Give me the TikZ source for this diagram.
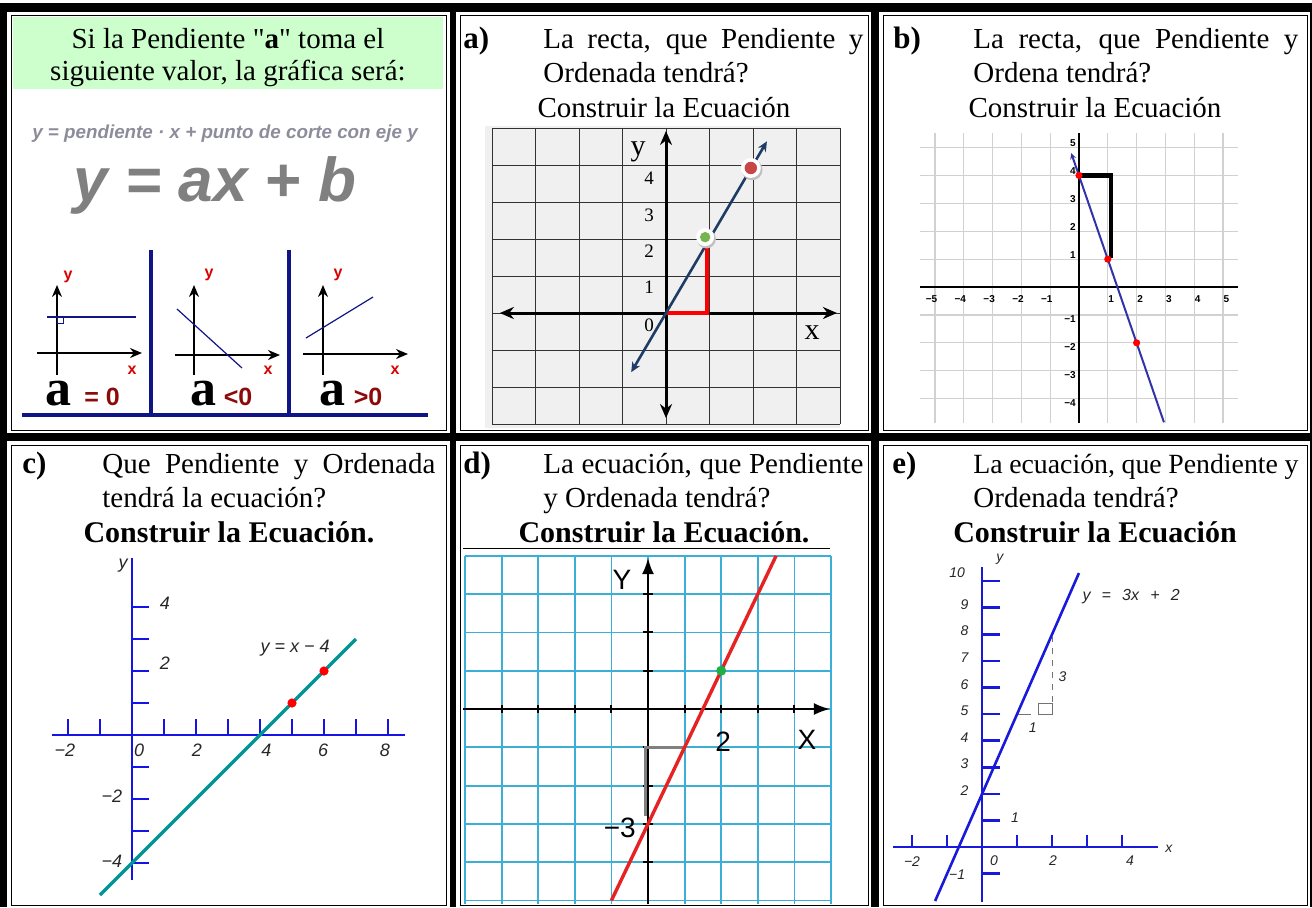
\documentclass[tikz,border=0pt]{standalone}
\usepackage{fontspec}
\setmainfont{Liberation Serif}[Ligatures=TeXOff]
\setsansfont{Liberation Sans}
\usetikzlibrary{arrows.meta}

\definecolor{headgreen}{RGB}{204,255,204}
\definecolor{minavy}{RGB}{15,20,135}
\definecolor{mindred}{RGB}{140,10,10}
\definecolor{formgray}{RGB}{140,140,155}
\definecolor{agridbg}{RGB}{240,240,240}
\definecolor{aline}{RGB}{30,60,100}
\definecolor{adotred}{RGB}{200,70,70}
\definecolor{adotgreen}{RGB}{120,180,80}
\definecolor{bline}{RGB}{50,50,170}
\definecolor{cblue}{RGB}{20,20,230}
\definecolor{cteal}{RGB}{0,150,150}
\definecolor{dcyan}{RGB}{60,175,215}
\definecolor{dred}{RGB}{230,35,35}
\definecolor{dgreen}{RGB}{30,175,70}
\definecolor{eblue}{RGB}{25,25,220}

\begin{document}
\begin{tikzpicture}[x=0.5pt, y=-0.5pt]
\tikzset{
	bar/.style={fill=black},
	cellframe/.style={draw=black, line width=0.5pt},
	qtext/.style={anchor=base west, inner sep=0pt, font=\fontsize{14.5}{17}\selectfont},
	qtitle/.style={anchor=base, inner sep=0pt, font=\fontsize{14.5}{17}\selectfont},
	qbold/.style={anchor=base, inner sep=0pt, font=\fontsize{15}{17}\selectfont\bfseries},
	qletter/.style={anchor=base west, inner sep=0pt, font=\fontsize{15.5}{17}\selectfont\bfseries},
	minaxis/.style={line width=0.8pt, -{Stealth[length=6pt,width=5pt]}},
	minlab/.style={text=red!85!black, font=\sffamily\bfseries\fontsize{8}{9}\selectfont, inner sep=0pt},
	bigA/.style={anchor=base, inner sep=0pt, font=\fontsize{26}{27}\selectfont\bfseries},
	signlab/.style={anchor=base, inner sep=0pt, text=mindred, font=\sffamily\bfseries\fontsize{12.5}{13}\selectfont},
	agrid/.style={draw=black!80, line width=0.5pt},
	anum/.style={inner sep=0pt, font=\fontsize{9.5}{10}\selectfont},
	bgrid/.style={draw=black!18, line width=0.6pt},
	bnum/.style={inner sep=0pt, font=\sffamily\bfseries\fontsize{5}{5}\selectfont},
	tech/.style={inner sep=0pt, text=black!85, font=\sffamily\itshape\fontsize{9}{10}\selectfont},
	techsmall/.style={inner sep=0pt, text=black!85, font=\sffamily\itshape\fontsize{7}{8}\selectfont},
	dgrid/.style={draw=dcyan, line width=0.9pt},
	dlab/.style={inner sep=0pt, font=\sffamily\fontsize{14}{15}\selectfont},
}
\useasboundingbox (0,0) rectangle (1312,907);

% table borders
\fill[bar] (0,3) rectangle (1312,12);
\fill[bar] (0,433) rectangle (1312,441);
\fill[bar] (0,3) rectangle (7,907);
\fill[bar] (450,3) rectangle (456,907);
\fill[bar] (871,3) rectangle (879,907);
\fill[bar] (1310,3) rectangle (1312,907);
\draw[cellframe] (11,15) rectangle (446,430);
\draw[cellframe] (460,15) rectangle (868,430);
\draw[cellframe] (883,15) rectangle (1307,430);
\draw[cellframe] (11,445) rectangle (446,905);
\draw[cellframe] (460,445) rectangle (868,905);
\draw[cellframe] (883,445) rectangle (1307,905);

% first cell
\fill[headgreen] (13,17) rectangle (443,89);
\node[qtitle] (head1) at (228,48) {Si la Pendiente "\textbf{a}" toma el};
\node[qtitle] (head2) at (228,80) {siguiente valor, la gráfica será:};
\node[anchor=base, inner sep=0pt, text=formgray, font=\sffamily\bfseries\itshape\fontsize{9.4}{10}\selectfont] (formtext) at (225,138) {y = pendiente · x + punto de corte con eje y};
\node[anchor=base, inner sep=0pt, text=black!50, font=\sffamily\bfseries\itshape\fontsize{31}{32}\selectfont] (formbig) at (215,201) {y = ax + b};

\draw[minavy, line width=2pt] (151,250) -- (151,415);
\draw[minavy, line width=2pt] (289,250) -- (289,415);
\draw[minavy, line width=2pt] (22,415) -- (428,415);

\draw[minaxis] (57,375) -- (57,285);
\draw[minaxis] (37,353) -- (142,353);
\draw[minavy, line width=0.6pt] (47,317) -- (136,317);
\draw[minavy, line width=0.4pt] (57,317) rectangle (63,323);
\node[minlab] (ya) at (68,277) {y};
\node[minlab] (xa) at (132,370) {x};
\node[bigA] (aeq) at (59,405) {a};
\node[signlab] (seq) at (102,405) {= 0};

\draw[minaxis] (194,375) -- (194,285);
\draw[minaxis] (175,355) -- (280,355);
\draw[minavy, line width=0.6pt] (177,309) -- (242,368);
\node[minlab] (yb) at (209,275) {y};
\node[minlab] (xb) at (268,370) {x};
\node[bigA] (alt) at (203,405) {a};
\node[signlab] (slt) at (238,405) {<0};

\draw[minaxis] (323,375) -- (323,285);
\draw[minaxis] (303,354) -- (408,354);
\draw[minavy, line width=0.6pt] (306,338) -- (373,297);
\node[minlab] (yc) at (338,275) {y};
\node[minlab] (xc) at (395,370) {x};
\node[bigA] (agt) at (332,405) {a};
\node[signlab] (sgt) at (368,405) {>0};

% cell a
\node[qletter] (taga) at (463,48) {a)};
\node[qtext] (a1) at (543,48) {\makebox[160pt][s]{La recta, que Pendiente y}};
\node[qtext] (a2) at (543,82) {Ordenada tendrá?};
\node[qtitle] (a3) at (664,117) {Construir la Ecuación};
\begin{scope}[shift={(666,313)}, x=21.75pt, y=18.5pt]
	\fill[agridbg] (-4.16,-3.11) rectangle (4.0,5.05);
	\foreach \i in {-4,...,4} \draw[agrid] (\i,-3) -- (\i,5);
	\foreach \j in {-3,...,5} \draw[agrid] (-4,\j) -- (4,\j);
	\draw[line width=1.5pt, {Stealth[length=7pt,width=6pt]}-{Stealth[length=7pt,width=6pt]}] (-3.82,0) -- (3.93,0);
	\draw[line width=1.5pt, {Stealth[length=7pt,width=6pt]}-{Stealth[length=7pt,width=6pt]}] (0,-2.84) -- (0,4.92);
	\draw[red, line width=2pt] (0,0) -- (0.95,0) -- (0.95,1.84);
	\draw[aline, line width=1.3pt, {Stealth[length=5pt,width=4.5pt]}-{Stealth[length=5pt,width=4.5pt]}] (-0.8,-1.6) -- (2.32,4.64);
	\fill[black!25] (0.93,2.0) circle (4.7pt);
	\fill[white] (0.9,2.05) circle (4.5pt);
	\fill[adotgreen] (0.9,2.05) circle (2.6pt);
	\fill[black!25] (1.98,3.87) circle (5.2pt);
	\fill[white] (1.95,3.92) circle (5pt);
	\fill[adotred] (1.95,3.92) circle (3.1pt);
	\node[inner sep=0pt, font=\fontsize{15}{16}\selectfont] (ay) at (-0.64,4.35) {y};
	\node[inner sep=0pt, font=\fontsize{15}{16}\selectfont] (ax) at (3.36,-0.54) {x};
	\node[anum] (an4) at (-0.39,3.65) {4};
	\node[anum] (an3) at (-0.39,2.65) {3};
	\node[anum] (an2) at (-0.39,1.68) {2};
	\node[anum] (an1) at (-0.39,0.70) {1};
	\node[anum] (an0) at (-0.39,-0.32) {0};
\end{scope}

% cell b
\node[qletter] (tagb) at (893,48) {b)};
\node[qtext] (b1) at (973,48) {\makebox[162.5pt][s]{La recta, que Pendiente y}};
\node[qtext] (b2) at (973,82) {Ordena tendrá?};
\node[qtitle] (b3) at (1095,117) {Construir la Ecuación};
\begin{scope}[shift={(1079,287)}, x=14.4pt, y=13.95pt]
	\foreach \i in {-5,...,-1,1,2,...,5} \draw[bgrid] (\i,-4.87) -- (\i,5.52);
	\foreach \j in {-4,...,-1,1,2,...,5} \draw[bgrid] (-5.52,\j) -- (5.52,\j);
	\draw[line width=1.3pt] (-5.52,0) -- (5.52,0);
	\draw[line width=1pt] (0,-4.87) -- (0,5.52);
	\foreach \i in {-5,...,-1} \node[bnum] at (\i-0.12,-0.42) {−\the\numexpr-\i\relax};
	\foreach \i in {1,...,5} \node[bnum] at (\i+0.12,-0.42) {\i};
	\foreach \j in {1,...,5} \node[bnum, anchor=east] at (-0.1,\j+0.15) {\j};
	\foreach \j in {-4,...,-1} \node[bnum, anchor=east] at (-0.1,\j-0.15) {−\the\numexpr-\j\relax};
	\draw[line width=2.2pt] (0,4) -- (1.12,4) -- (1.12,1.05);
	\draw[bline, line width=1pt, -{Stealth[length=3pt,width=3pt]}] (2.95,-4.85) -- (-0.27,4.8);
	\fill[red] (0,4) circle (1.8pt);
	\fill[red] (1,1) circle (1.8pt);
	\fill[red] (2,-2) circle (1.8pt);
\end{scope}

% cell c
\node[qletter] (tagc) at (22,473) {c)};
\node[qtext] (c1) at (102,473) {\makebox[166.5pt][s]{Que Pendiente y Ordenada}};
\node[qtext] (c2) at (102,507) {tendrá la ecuación?};
\node[qbold] (c3) at (229,542) {Construir la Ecuación.};
\begin{scope}[shift={(132,735)}, x=16pt, y=16pt]
	\draw[cblue, line width=1.3pt] (-2.5,0) -- (8.53,0);
	\draw[cblue, line width=1.3pt] (0,-4.53) -- (0,5.53);
	\foreach \i in {-2,-1,1,2,...,8} \draw[cblue, line width=1.3pt] (\i,0) -- (\i,0.5);
	\foreach \j in {-4,...,-1,1,2,...,4} \draw[cblue, line width=1.3pt] (0,\j) -- (0.53,\j);
	\draw[cteal, line width=1.7pt] (-1,-5) -- (7,3);
	\fill[red] (5,1) circle (2.3pt);
	\fill[red] (6,2) circle (2.3pt);
	\node[tech] (cxm2) at (-2.1,-0.47) {−2};
	\node[tech] (cx0) at (0.22,-0.47) {0};
	\node[tech] (cx2) at (2.03,-0.47) {2};
	\node[tech] (cx4) at (4.2,-0.47) {4};
	\node[tech] (cx6) at (5.97,-0.47) {6};
	\node[tech] (cx8) at (7.9,-0.47) {8};
	\node[tech] (cy4) at (1.03,4.12) {4};
	\node[tech] (cy2) at (1.03,2.25) {2};
	\node[tech] (cym2) at (-0.63,-1.9) {−2};
	\node[tech] (cym4) at (-0.63,-3.94) {−4};
	\node[tech] (cyl) at (-0.28,5.28) {y};
	\node[tech] (ceq) at (5.1,2.7) {y = x − 4};
\end{scope}

% cell d
\node[qletter] (tagd) at (463,473) {d)};
\node[qtext] (d1) at (543,473) {\makebox[160pt][s]{La ecuación, que Pendiente}};
\node[qtext] (d2) at (543,507) {y Ordenada tendrá?};
\node[qbold] (d3) at (664,542) {Construir la Ecuación.};
\begin{scope}[shift={(648,709)}, x=18.3pt, y=19.15pt]
	\foreach \i in {-5,...,5} \draw[dgrid] (\i,-5.1) -- (\i,4);
	\foreach \j in {-5,...,4} \draw[dgrid] (-5,\j) -- (5,\j);
	\draw[line width=0.5pt] (-5.05,4.18) -- (4.97,4.18);
	\draw[line width=1pt, -{Latex[length=8pt,width=6pt]}] (-5.05,0) -- (4.97,0);
	\draw[line width=1pt, -{Latex[length=8pt,width=6pt]}] (0,-5.1) -- (0,3.94);
	\foreach \i in {-4,...,-1,1,2,...,4} \draw[line width=1pt] (\i,-0.1) -- (\i,0.1);
	\foreach \j in {-4,...,-1,1,2,3} \draw[line width=1pt] (-0.15,\j) -- (0.15,\j);
	\draw[black!50, line width=1.5pt] (-0.07,-2.8) -- (-0.07,-1) -- (1,-1);
	\draw[dred, line width=1.7pt] (-1,-5) -- (3.5,4);
	\fill[dgreen] (2,1) circle (2.5pt);
	\node[dlab] (dy) at (-0.71,3.38) {Y};
	\node[dlab] (dx) at (4.34,-0.81) {X};
	\node[dlab] (d2l) at (2.05,-0.86) {2};
	\node[dlab] (dm3) at (-0.77,-3.1) {−3};
\end{scope}

% cell e
\node[qletter] (tage) at (892,473) {e)};
\node[qtext, font=\fontsize{13.9}{17}\selectfont] (e1) at (973,473) {\makebox[162.5pt][s]{La ecuación, que Pendiente y}};
\node[qtext] (e2) at (973,507) {Ordenada tendrá?};
\node[qbold] (e3) at (1095,542) {Construir la Ecuación};
\begin{scope}[shift={(982,847)}, x=17.5pt, y=13.3pt]
	\draw[eblue, line width=1.3pt] (-2.54,0) -- (5.03,0);
	\draw[eblue, line width=1.3pt] (0,-2.07) -- (0,10.53);
	\foreach \j in {-1,1,2,...,10} \draw[eblue, line width=1.3pt] (0,\j) -- (0.52,\j);
	\foreach \i in {-2,-1,1,2,3,4} \draw[eblue, line width=1.3pt] (\i,0) -- (\i,0.45);
	\draw[black!55, line width=0.5pt] (1,5) -- (1.4,5);
	\draw[black!55, line width=0.5pt] (1.6,5) rectangle (2,5.38);
	\draw[black!55, line width=0.5pt, dashed] (2,5) -- (2,7.9);
	\draw[eblue, line width=1.3pt] (-1.34,-2.03) -- (2.77,10.3);
	\node[techsmall] (eym1) at (-0.71,-1.05) {−1};
	\node[techsmall] (ey1) at (0.94,1.09) {1};
	\node[techsmall] (ey10) at (-0.71,10.3) {10};
	\foreach \j in {2,...,9} \node[techsmall] at (-0.5,\j+0.12) {\j};
	\node[techsmall] (eyl) at (0.51,10.83) {y};
	\node[techsmall] (exl) at (5.34,-0.08) {x};
	\node[techsmall] (exm2) at (-2,-0.53) {−2};
	\node[techsmall] (ex0) at (0.34,-0.53) {0};
	\node[techsmall] (ex2) at (2.03,-0.5) {2};
	\node[techsmall] (ex4) at (4.23,-0.5) {4};
	\node[techsmall] (erise) at (2.3,6.4) {3};
	\node[techsmall] (erun) at (1.45,4.5) {1};
	\node[techsmall, anchor=west, font=\sffamily\itshape\fontsize{8}{9}\selectfont] (eeq) at (2.86,9.4) {y\hspace{0.7em}=\hspace{0.7em}3x\hspace{0.7em}+\hspace{0.7em}2};
\end{scope}
\end{tikzpicture}
\end{document}
